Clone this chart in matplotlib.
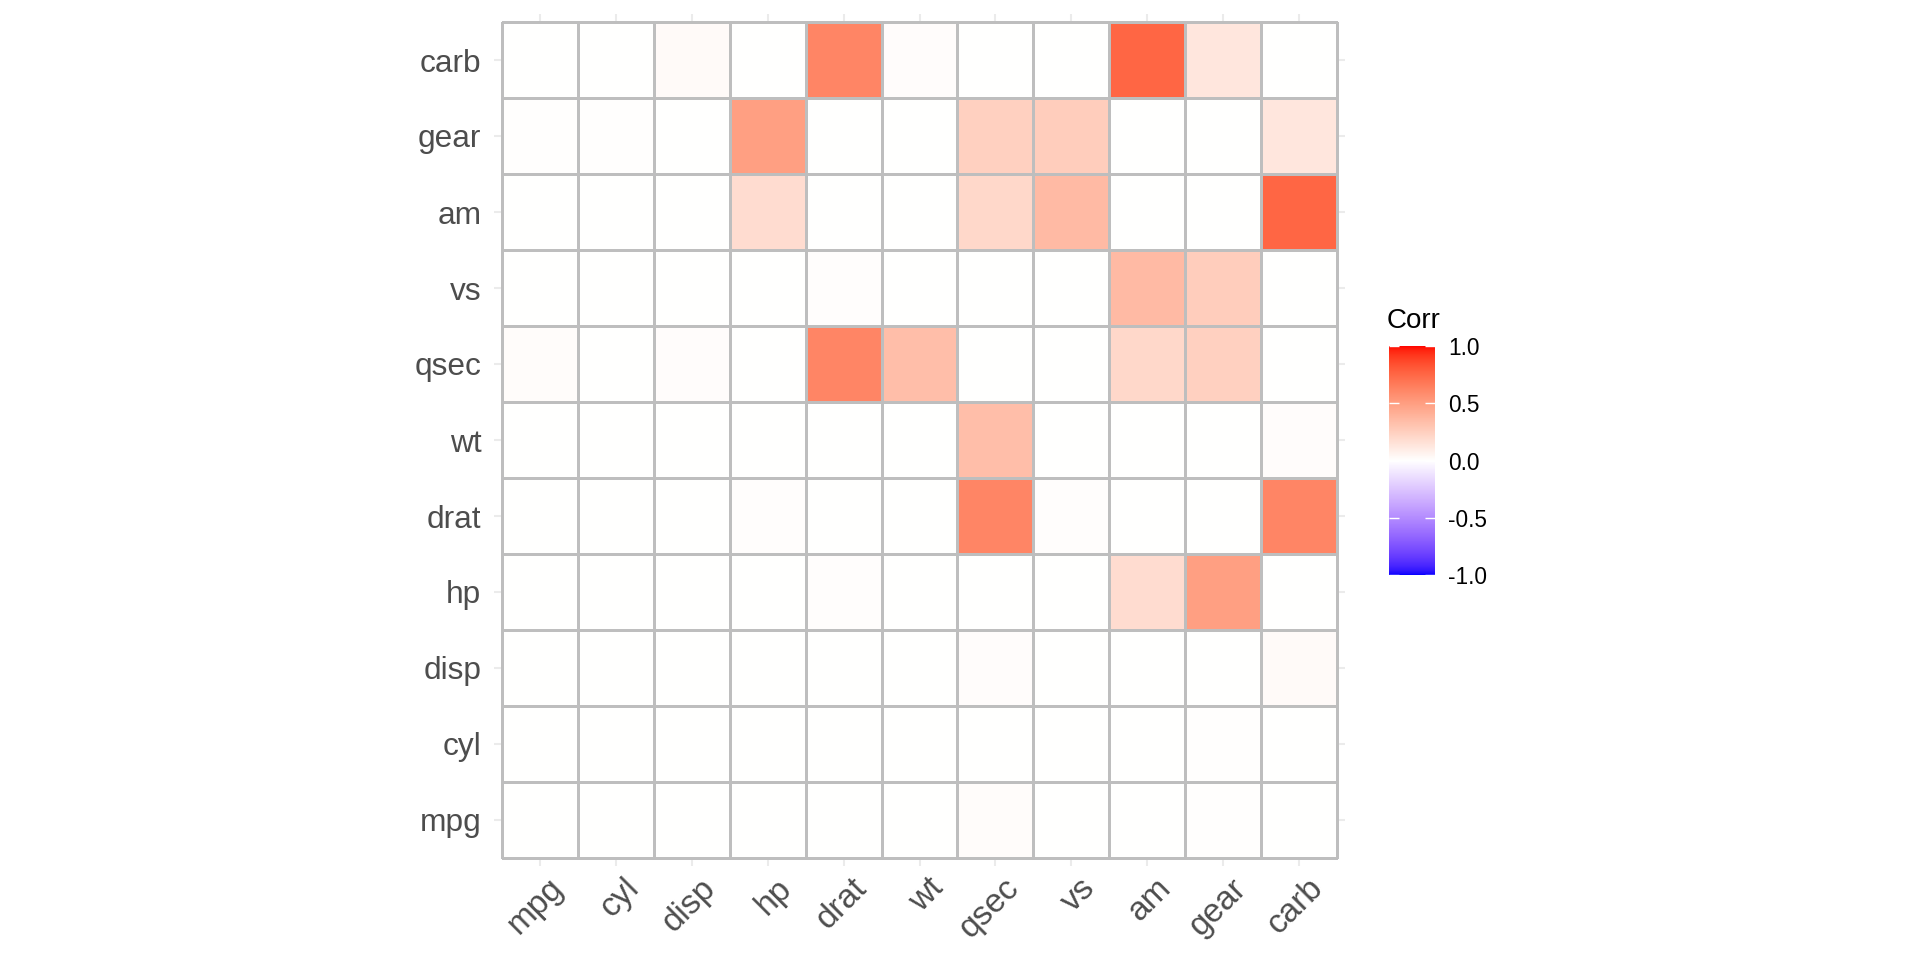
import numpy as np
import matplotlib
matplotlib.use("Agg")
import matplotlib.pyplot as plt
import matplotlib.transforms as mtransforms
from matplotlib.colors import ListedColormap, Normalize

plt.rcParams['font.family'] = ['Liberation Sans', 'DejaVu Sans']

# mtcars correlation p-values (symmetric), rows/cols in this order
variables = ["mpg", "cyl", "disp", "hp", "drat", "wt", "qsec", "vs", "am", "gear", "carb"]
p_mpg  = [0.0, 6.1e-10, 9.4e-10, 1.8e-07, 1.8e-05, 1.3e-10, 0.0171, 3.4e-05, 0.000285, 0.0054, 0.00108]
p_cyl  = [6.1e-10, 0.0, 1.8e-12, 3.5e-09, 8.2e-06, 1.2e-07, 0.000366, 1.8e-08, 0.00215, 0.00417, 0.00194]
p_disp = [9.4e-10, 1.8e-12, 0.0, 7.1e-08, 5.3e-06, 1.2e-11, 0.0131, 5.2e-06, 0.000366, 0.000964, 0.0253]
p_hp   = [1.8e-07, 3.5e-09, 7.1e-08, 0.0, 0.00999, 4.1e-05, 5.8e-06, 2.9e-06, 0.180, 0.493, 7.8e-07]
p_drat = [1.8e-05, 8.2e-06, 5.3e-06, 0.00999, 0.0, 4.8e-06, 0.620, 0.0116, 4.7e-06, 8.4e-06, 0.621]
p_wt   = [1.3e-10, 1.2e-07, 1.2e-11, 4.1e-05, 4.8e-06, 0.0, 0.339, 0.00098, 1.1e-05, 0.000459, 0.0146]
p_qsec = [0.0171, 0.000366, 0.0131, 5.8e-06, 0.620, 0.339, 0.0, 1.0e-06, 0.206, 0.243, 4.5e-05]
p_vs   = [3.4e-05, 1.8e-08, 5.2e-06, 2.9e-06, 0.0116, 0.00098, 1.0e-06, 0.0, 0.357, 0.258, 0.000667]
p_am   = [0.000285, 0.00215, 0.000366, 0.180, 4.7e-06, 1.1e-05, 0.206, 0.357, 0.0, 5.8e-08, 0.754]
p_gear = [0.0054, 0.00417, 0.000964, 0.493, 8.4e-06, 0.000459, 0.243, 0.258, 5.8e-08, 0.0, 0.129]
p_carb = [0.00108, 0.00194, 0.0253, 7.8e-07, 0.621, 0.0146, 4.5e-05, 0.000667, 0.754, 0.129, 0.0]

legend_ticks = [-1.0, -0.5, 0.0, 0.5, 1.0]


# ggplot2 scale_fill_gradient2 interpolates in CIE Lab, so do the same here
M = np.array([[0.4124, 0.3576, 0.1805], [0.2126, 0.7152, 0.0722], [0.0193, 0.1192, 0.9505]])
WHITE = np.array([0.95047, 1.0, 1.08883])


def srgb_to_lab(rgb):
    c = np.asarray(rgb, dtype=float)
    lin = np.where(c <= 0.04045, c / 12.92, ((c + 0.055) / 1.055) ** 2.4)
    xyz = M @ lin / WHITE
    d = 6 / 29
    f = np.where(xyz > d ** 3, np.cbrt(xyz), xyz / (3 * d * d) + 4 / 29)
    return np.array([116 * f[1] - 16, 500 * (f[0] - f[1]), 200 * (f[1] - f[2])])


def lab_to_srgb(lab):
    L, a, b = lab
    fy = (L + 16) / 116
    f = np.array([fy + a / 500, fy, fy - b / 200])
    d = 6 / 29
    xyz = np.where(f > d, f ** 3, 3 * d * d * (f - 4 / 29)) * WHITE
    lin = np.clip(np.linalg.inv(M) @ xyz, 0, 1)
    return np.where(lin <= 0.0031308, 12.92 * lin, 1.055 * lin ** (1 / 2.4) - 0.055)


low, mid, high = srgb_to_lab([0, 0, 1]), srgb_to_lab([1, 1, 1]), srgb_to_lab([1, 0, 0])
colors = []
for t in np.linspace(0, 1, 512):
    if t < 0.5:
        lab = low + (mid - low) * (t / 0.5)
    else:
        lab = mid + (high - mid) * ((t - 0.5) / 0.5)
    colors.append(np.clip(lab_to_srgb(lab), 0, 1))
cmap = ListedColormap(colors)

mat = np.array([p_mpg, p_cyl, p_disp, p_hp, p_drat, p_wt, p_qsec, p_vs, p_am, p_gear, p_carb])
n = len(variables)

fig = plt.figure(figsize=(19.2, 9.6), dpi=100)
ax = fig.add_axes([494.4 / 1920, 1 - 865.6 / 960, 850.2 / 1920, 851.2 / 960])

edges = np.arange(n + 1) - 0.5
mesh = ax.pcolormesh(edges, edges, mat, cmap=cmap, norm=Normalize(-1, 1),
                     edgecolors='#BEBEBE', linewidth=0.75, zorder=2)

ax.set_xlim(-0.6, n - 0.4)
ax.set_ylim(-0.6, n - 0.4)
ax.set_xticks(range(n))
ax.set_yticks(range(n))
ax.set_axisbelow(True)
ax.grid(True, color='#EBEBEB', linewidth=1.5, zorder=0)
for s in ax.spines.values():
    s.set_visible(False)

ax.set_yticklabels(variables, fontsize=22.8, color='#4D4D4D')
ax.set_xticklabels(variables, fontsize=24, color='#4D4D4D', rotation=45,
                   ha='right', va='top', rotation_mode='anchor')
ax.tick_params(axis='y', length=0, pad=9.4)
ax.tick_params(axis='x', length=0, pad=5)
shift = mtransforms.ScaledTranslation(8 / 100, 0, fig.dpi_scale_trans)
for lbl in ax.get_xticklabels():
    lbl.set_transform(lbl.get_transform() + shift)

# legend
cax = fig.add_axes([1389 / 1920, 1 - 575 / 960, 46 / 1920, 229 / 960])
cb = fig.colorbar(mesh, cax=cax, ticks=legend_ticks)
cb.outline.set_visible(False)
cb.ax.set_yticklabels([f"{v:.1f}" for v in legend_ticks])
cb.ax.tick_params(axis='y', direction='in', length=7, width=1, colors='white',
                  labelcolor='black', labelsize=16.3, pad=9.4, left=True)
fig.text(1387 / 1920, 1 - 328.3 / 960, "Corr", fontsize=20, ha='left', va='baseline', color='black')

fig.savefig("out.png", dpi=100)
